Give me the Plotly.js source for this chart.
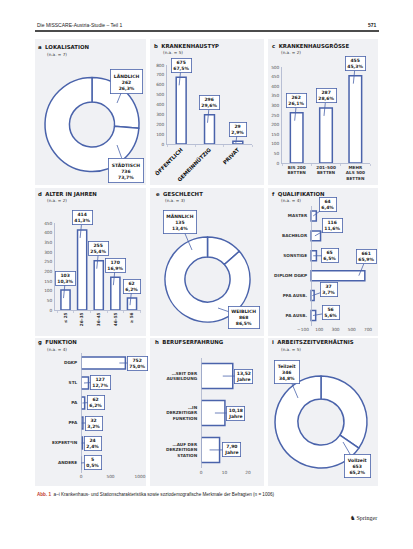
<!DOCTYPE html>
<html><head><meta charset="utf-8">
<script src="https://cdn.plot.ly/plotly-3.0.1.min.js"></script>
<style>html,body{margin:0;padding:0;background:#fff;} #chart{width:413px;height:549px;}</style>
</head><body><div id="chart"></div>
<script>
// ---------- data ----------
const lokalisationLabels = ['LÄNDLICH', 'STÄDTISCH'];
const lokalisationN = [262, 736];
const lokalisationPct = [26.3, 73.7];

const typLabels = ['ÖFFENTLICH', 'GEMEINNÜTZIG', 'PRIVAT'];
const typN = [675, 296, 29];
const typPct = [67.5, 29.6, 2.9];

const groesseLabels = ['BIS 200<br>BETTEN', '201–500<br>BETTEN', 'MEHR<br>ALS 500<br>BETTEN'];
const groesseN = [262, 287, 455];
const groessePct = [26.1, 28.6, 45.3];

const alterLabels = ['≤ 25', '26–35', '36–45', '46–55', '≥ 56'];
const alterN = [103, 414, 255, 170, 62];
const alterPct = [10.3, 41.3, 25.4, 16.9, 6.2];

const geschlechtLabels = ['MÄNNLICH', 'WEIBLICH'];
const geschlechtN = [135, 868];
const geschlechtPct = [13.4, 86.5];

const qualLabels = ['MASTER', 'BACHELOR', 'SONSTIGE', 'DIPLOM DGKP', 'PFA AUSB.', 'PA AUSB.'];
const qualN = [64, 116, 65, 661, 37, 56];
const qualPct = [6.4, 11.6, 6.5, 65.9, 3.7, 5.6];
const qualTicks = [-100, 100, 300, 500, 700];

const funktionLabels = ['DGKP', 'STL', 'PA', 'PFA', 'EXPERT*IN', 'ANDERE'];
const funktionN = [752, 127, 62, 32, 24, 5];
const funktionPct = [75.0, 12.7, 6.2, 3.2, 2.4, 0.5];
const funktionTicks = [0, 500, 1000];

const erfahrungLabels = ['…SEIT DER<br>AUSBILDUNG', '…IN<br>DERZEITIGER<br>FUNKTION', '…AUF DER<br>DERZEITIGEN<br>STATION'];
const erfahrungJahre = [13.52, 10.18, 7.90];
const erfahrungTicks = [0, 10, 20];

const arbeitszeitLabels = ['Teilzeit', 'Vollzeit'];
const arbeitszeitN = [346, 653];
const arbeitszeitPct = [34.8, 65.2];

const panelLetters = ['a', 'b', 'c', 'd', 'e', 'f', 'g', 'h', 'i'];
const panelTitles = ['LOKALISATION', 'KRANKENHAUSTYP', 'KRANKENHAUSGRÖSSE', 'ALTER IN JAHREN', 'GESCHLECHT',
  'QUALIFIKATION', 'FUNKTION', 'BERUFSERFAHRUNG', 'ARBEITSZEITVERHÄLTNIS'];
const panelNA = [7, 5, 2, 2, 3, 4, 4, null, 5];

// ---------- helpers ----------
const W = 413, H = 549;
const px = x => x / W;
const py = y => 1 - y / H;
const BLUE = '#4a63ab';
const AX = '#aab3cc';
const FAM = 'DejaVu Sans, Liberation Sans, sans-serif';
const pct = v => v.toFixed(1).replace('.', ',') + '%';
const CF = {family: FAM, size: 4.5, color: '#1a1a1a', weight: 'bold'};
const TICKF = {family: FAM, size: 4.3, color: '#555'};
const CATF = {family: FAM, size: 4.2, color: '#333', weight: 'bold'};
const CATF_BIG = {family: FAM, size: 5.2, color: '#111', weight: 'bold'};

const traces = [];
const annotations = [];
const shapes = [];

// panel backgrounds
const cols = [[35, 146], [150, 264], [268, 378]];
const rows = [[39, 185], [188, 336], [338, 486]];
rows.forEach(r => cols.forEach(c => shapes.push({type: 'rect', xref: 'paper', yref: 'paper', layer: 'below',
  x0: px(c[0]), x1: px(c[1]), y0: py(r[1]), y1: py(r[0]), fillcolor: '#f0f1f4', line: {width: 0}})));
// header rule
shapes.push({type: 'line', xref: 'paper', yref: 'paper', x0: px(35), x1: px(379), y0: py(31), y1: py(31), line: {color: '#111', width: 1.6}});

// titles
const titlePos = [[36, 47], [152, 46], [270, 46], [36, 194], [154, 194], [270, 194], [36, 342], [153, 342], [270, 342]];
panelLetters.forEach((l, i) => {
  annotations.push({xref: 'paper', yref: 'paper', x: px(titlePos[i][0]), y: py(titlePos[i][1]), xanchor: 'left', yanchor: 'middle',
    showarrow: false, text: '<b>' + l + '</b>  <b>' + panelTitles[i] + '</b>', font: {family: FAM, size: 5.4, color: '#1a1a1a'}});
  if (panelNA[i] !== null) {
    annotations.push({xref: 'paper', yref: 'paper', x: px(titlePos[i][0] + 9), y: py(titlePos[i][1] + 7), xanchor: 'left', yanchor: 'middle',
      showarrow: false, text: '(n.a. = ' + panelNA[i] + ')', font: {family: FAM, size: 4.2, color: '#333'}});
  }
});

function callout(xref, yref, x, y, text, ax, ay, xshift, yshift, pad) {
  return {xref, yref, x, y, text, showarrow: true, arrowhead: 0, arrowwidth: 0.8, arrowcolor: BLUE,
    ax, ay, xshift: xshift || 0, yshift: yshift || 0, bgcolor: '#fff', bordercolor: BLUE, borderwidth: 0.8,
    borderpad: pad || 1.5, font: CF, align: 'center'};
}

// ---------- donuts ----------
function donut(labels, n, p, dom, hole, dir, tips, boxes, pad) {
  traces.push({type: 'pie', labels, values: n, sort: false, direction: dir, hole,
    domain: {x: [px(dom[0]), px(dom[1])], y: [py(dom[3]), py(dom[2])]},
    marker: {colors: labels.map(() => '#ffffff'), line: {color: BLUE, width: 1.5}},
    textinfo: 'none', hoverinfo: 'none', showlegend: false});
  labels.forEach((l, i) => {
    annotations.push(callout('paper', 'paper', px(tips[i][0]), py(tips[i][1]),
      l + '<br>' + n[i] + '<br>' + pct(p[i]), boxes[i][0] - tips[i][0], boxes[i][1] - tips[i][1], 0, 0, pad));
  });
}
donut(lokalisationLabels, lokalisationN, lokalisationPct, [45, 139, 77.5, 171.5], 0.48, 'clockwise',
  [[117, 103], [117, 145]], [[126, 81], [126, 170]], 3);
donut(geschlechtLabels, geschlechtN, geschlechtPct, [165, 250, 237, 322], 0.53, 'counterclockwise',
  [[192, 250], [218, 308]], [[180, 222], [244, 317]], 2.5);
donut(arbeitszeitLabels, arbeitszeitN, arbeitszeitPct, [275, 367, 376, 468], 0.5, 'counterclockwise',
  [[298, 398], [343, 442]], [[287, 372], [357, 466]], 3);

// ---------- vertical bars ----------
const layoutAxes = {};
function vbars(k, cats, n, p, xdom, ydom, yrange, dtick, barw, angle, catFont) {
  const xa = 'xaxis' + (k === 1 ? '' : k), ya = 'yaxis' + (k === 1 ? '' : k);
  const xr = 'x' + (k === 1 ? '' : k), yr = 'y' + (k === 1 ? '' : k);
  traces.push({type: 'bar', x: cats, y: n, xaxis: xr, yaxis: yr, width: barw,
    marker: {color: '#ffffff', line: {color: BLUE, width: 1.5}}, hoverinfo: 'none', showlegend: false});
  layoutAxes[xa] = {domain: [px(xdom[0]), px(xdom[1])], anchor: yr, type: 'category', showline: true, linecolor: AX,
    linewidth: 0.8, ticks: 'outside', ticklen: 2, tickwidth: 0.6, tickcolor: AX, tickson: 'boundaries',
    tickangle: angle, tickfont: catFont, showgrid: false, zeroline: false, fixedrange: true};
  layoutAxes[ya] = {domain: [py(ydom[0]), py(ydom[1])], anchor: xr, range: yrange, dtick, showline: true,
    linecolor: AX, linewidth: 0.8, ticks: '', tickfont: TICKF, showgrid: false, zeroline: false, fixedrange: true,
    ticklabelstandoff: 1};
  const ppu = (ydom[0] - ydom[1]) / (yrange[1] - yrange[0]);
  cats.forEach((c, i) => {
    const s = Math.min(8, 0.6 * n[i] * ppu);
    annotations.push(callout(xr, yr, c, n[i], n[i] + '<br>' + pct(p[i]), 2, -(12 + s), -2, -s));
  });
}
vbars(1, typLabels, typN, typPct, [167, 252], [144, 65], [0, 800], 100, 0.35, -45, CATF_BIG);
vbars(2, groesseLabels, groesseN, groessePct, [282, 370], [163, 67], [0, 500], 50, 0.43, 0, CATF);
vbars(3, alterLabels, alterN, alterPct, [55, 141], [310, 223], [0, 450], 50, 0.55, -90, CATF);

// ---------- horizontal bars ----------
function hbars(k, cats, n, texts, xdom, ydom, xrange, tickvals, barw, yaxisPos, offsets, smax) {
  const xa = 'xaxis' + k, ya = 'yaxis' + k, xr = 'x' + k, yr = 'y' + k;
  traces.push({type: 'bar', orientation: 'h', x: n, y: cats, xaxis: xr, yaxis: yr, width: barw,
    marker: {color: '#ffffff', line: {color: BLUE, width: 1.5}}, hoverinfo: 'none', showlegend: false});
  layoutAxes[xa] = {domain: [px(xdom[0]), px(xdom[1])], anchor: yr, range: xrange, tickvals, showline: false,
    ticks: '', tickfont: TICKF, showgrid: false, zeroline: false, fixedrange: true};
  layoutAxes[ya] = {domain: [py(ydom[1]), py(ydom[0])], anchor: 'free', position: px(yaxisPos), type: 'category',
    autorange: 'reversed', showline: true, linecolor: AX, linewidth: 0.8, ticks: '', tickfont: CATF,
    showgrid: false, zeroline: false, fixedrange: true, ticklabelstandoff: 3};
  const ppu = (xdom[1] - xdom[0]) / (xrange[1] - xrange[0]);
  cats.forEach((c, i) => {
    const s = Math.min(smax, 0.6 * n[i] * ppu);
    annotations.push(callout(xr, yr, n[i], c, texts[i], offsets[i][0] + s, offsets[i][1], -s, 0));
  });
}
hbars(4, qualLabels, qualN, qualN.map((v, i) => v + '<br>' + pct(qualPct[i])), [303, 368], [206, 326],
  [-100, 700], qualTicks, 0.5, 311, [[12, -11], [12, -10], [14, 0], [2, -19], [15, -6], [15, -3]], 6);
hbars(5, funktionLabels, funktionN, funktionN.map((v, i) => v + '<br>' + pct(funktionPct[i])), [81, 140], [353, 473],
  [0, 1000], funktionTicks, 0.6, 81, [[12, 0], [12, -1], [11.5, -1], [11, 0], [11, 0], [11.5, -1]], 6);
hbars(6, erfahrungLabels, erfahrungJahre, erfahrungJahre.map(v => v.toFixed(2).replace('.', ',') + '<br>Jahre'),
  [201, 248], [357.6, 468.4], [0, 20], erfahrungTicks, 0.68, 201, [[11, 0], [11, 0], [12, 0]], 10);

// ---------- page texts ----------
annotations.push({xref: 'paper', yref: 'paper', x: px(35), y: py(25), xanchor: 'left', yanchor: 'middle', showarrow: false,
  text: 'Die MISSCARE-Austria-Studie – Teil 1', font: {family: 'Liberation Sans, sans-serif', size: 5, color: '#222'}});
annotations.push({xref: 'paper', yref: 'paper', x: px(379), y: py(25), xanchor: 'right', yanchor: 'middle', showarrow: false,
  text: '<b>571</b>', font: {family: 'Liberation Sans, sans-serif', size: 5, color: '#222'}});
annotations.push({xref: 'paper', yref: 'paper', x: px(35), y: py(494), xanchor: 'left', yanchor: 'middle', showarrow: false,
  text: '<b><span style="color:#c0392b">Abb. 1</span></b>  a–i Krankenhaus- und Stationscharakteristika sowie soziodemografische Merkmale der Befragten (n = 1006)',
  font: {family: 'Liberation Sans, sans-serif', size: 4.6, color: '#222'}});
annotations.push({xref: 'paper', yref: 'paper', x: px(379), y: py(518), xanchor: 'right', yanchor: 'middle', showarrow: false,
  text: '♞ Springer', font: {family: 'Liberation Serif, serif', size: 6, color: '#222'}});

const layout = Object.assign({
  width: W, height: H, margin: {l: 0, r: 0, t: 0, b: 0}, paper_bgcolor: '#ffffff', plot_bgcolor: 'rgba(0,0,0,0)',
  showlegend: false, shapes, annotations, font: {family: FAM}
}, layoutAxes);

Plotly.newPlot('chart', traces, layout, {staticPlot: true, displayModeBar: false});
</script></body></html>
